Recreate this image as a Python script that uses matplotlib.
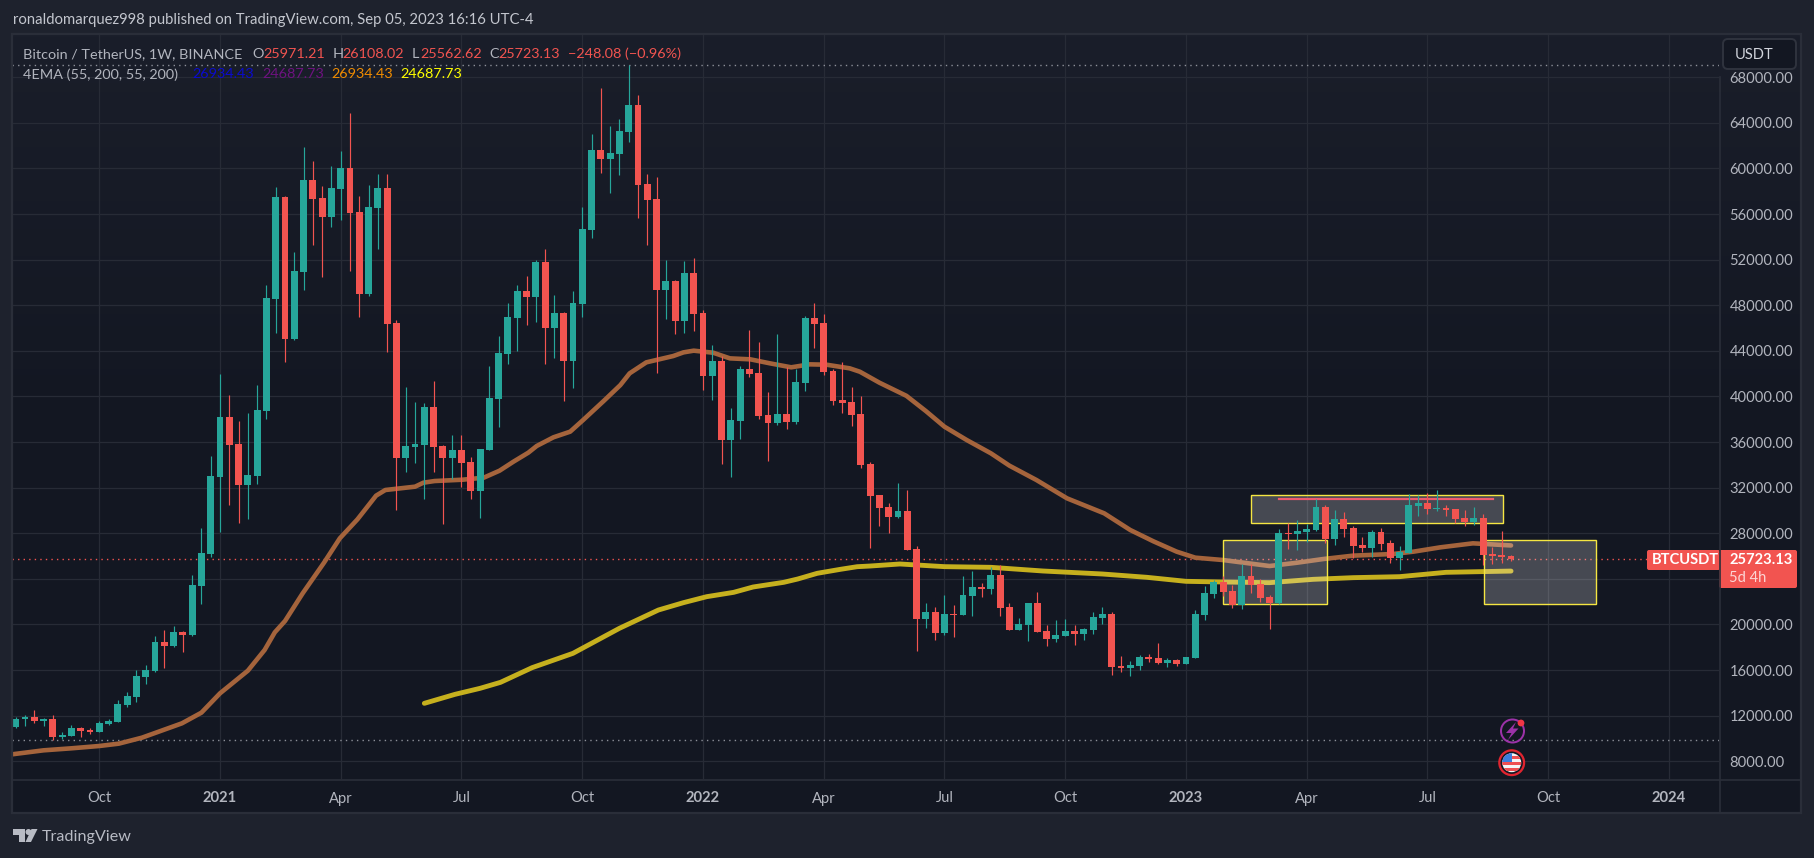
import numpy as np
import matplotlib
matplotlib.use("Agg")
import matplotlib.pyplot as plt
from matplotlib.patches import Rectangle, FancyBboxPatch, Circle, Polygon, Wedge

W, H = 1814, 858
first_week = -22   # weeks relative to the first candle of January 2021

opens = [11038,11680,11886,11565,11711,10160,10248,10892,10746,10570,
         11272,11447,12938,13640,15394,15920,18464,18113,19341,19078,
         23376,26182,32940,38203,35834,32237,33028,38729,48555,57503,
         45041,50918,58989,57415,55748,58204,60047,56187,48994,56539,
         58292,46450,34600,35565,35740,39072,35653,34600,35302,34250,
         31707,35302,39776,43723,46880,49248,48722,51792,46005,47320,
         43109,48110,54601,61618,60828,61264,63194,65562,58633,57318,
         49335,50125,46616,50826,47318,41790,43106,36176,37844,42412,
         42060,38375,37674,38463,37762,41182,46885,46446,42236,39693,
         39518,38463,34078,31358,30306,29430,29956,26623,20483,21097,
         19255,20921,20833,22499,23289,23113,24337,21528,19518,19957,
         21886,19430,18729,18992,19430,19167,19518,20570,20921,16360,
         16184,16360,17148,17061,16623,16886,16535,17060,20833,22675,
         23728,22938,21710,24254,23552,22412,21886,28026,27938,28114,
         28290,30306,27500,29254,28465,26974,26711,28114,27148,25832,
         26272,30394,30657,30131,30219,30131,29342,28991,29342,26185,
         26097,25971]
closes = [11711,11856,11535,11711,10160,10307,10921,10658,10570,11360,
          11535,13026,13728,15482,16009,18464,18113,19341,19078,23464,
          26270,33024,38203,35745,32237,33115,38817,48643,57503,45041,
          51006,58989,57322,55748,58292,60047,56100,48994,56626,58292,
          46361,34600,35653,35828,39072,35565,34600,35302,34162,31707,
          35390,39863,43811,46968,49248,48722,51792,46005,47320,43109,
          48197,54689,61618,60828,61355,63282,65562,58545,57230,49335,
          50125,46616,50826,47230,41790,43106,36176,37930,42412,41973,
          38288,37674,38463,37762,41270,46885,46358,42149,39605,39430,
          38375,33990,31270,30218,29430,29956,26535,20483,21097,19255,
          20921,20833,22587,23289,23113,24337,21441,19518,20044,21886,
          19343,18729,19080,19430,19167,19606,20658,20921,16272,16184,
          16447,17148,16973,16623,16886,16535,17148,20921,22763,23727,
          22850,21710,24254,23465,22324,21886,28026,27938,28202,28377,
          30306,27500,29254,28377,26886,26711,28114,27061,25832,26360,
          30482,30657,30131,30219,30043,29254,28991,29342,26097,26010,
          25920,25723]
highs = [11915,12032,12500,11769,12061,10541,11184,11009,10892,11535,
         11711,13348,14079,16009,16448,18990,19516,19867,19429,24341,
         28463,34778,41974,40101,37845,38520,41004,49784,58380,57590,
         52673,61884,60651,58467,60222,61533,64866,57590,58555,59520,
         59520,46713,40830,39540,39424,41355,35770,36650,36600,34690,
         35390,42670,45302,48197,49775,50565,51968,52932,48898,47408,
         49248,56619,63022,67050,63730,64343,69077,66440,59517,59254,
         51980,50213,51878,52140,47582,44518,43545,38990,42677,45838,
         44787,40386,45484,42587,42412,47060,48198,47235,42412,43020,
         40825,40044,34254,31358,30658,32411,31797,26886,21886,21535,
         22587,21710,24249,24688,23640,25040,25215,21886,20570,21886,
         22850,19957,20395,20483,19957,19694,21097,21535,21097,17236,
         16798,17325,17412,18377,17061,16973,17148,21272,23377,23903,
         24252,23465,25306,25306,23991,22587,28377,28903,29167,28816,
         31000,30480,30043,29870,28641,27675,28290,28465,27412,26886,
         31445,31360,31532,31795,30480,30131,30043,30306,29693,26800,
         28202,26108]
lows = [10950,11126,11388,11126,9868,9927,10219,10160,10424,10570,
        11214,11447,12792,13231,14781,15832,16184,18055,17587,18990,
        21790,25919,28114,30480,28933,29245,32325,38027,45567,43022,
        44953,49340,53294,50480,54867,55485,51010,47000,48847,52935,
        43910,30046,33373,34165,31000,33373,28814,32790,32060,31000,
        29340,35302,37320,42840,43985,46268,46530,42840,43366,39600,
        40740,46970,53900,59600,57850,59420,62320,55650,53300,42050,
        46790,45481,45570,45745,40570,39690,34075,32960,36270,41710,
        38017,34372,37500,37138,37592,40470,44250,41882,39260,38550,
        37417,33724,26710,28640,28027,29340,26535,17675,19690,18640,
        19080,18900,20833,20745,22412,22675,20745,19518,19518,18553,
        19343,18114,18465,18992,18202,18640,19167,20044,15571,15833,
        15483,16009,16711,16535,16272,16360,16535,17060,20395,22324,
        22500,21447,21360,22763,21974,19605,21798,26610,26530,27236,
        28202,27148,26974,27675,25832,26360,25920,26535,25393,24780,
        26272,29518,29693,29956,29518,28900,28641,28728,25190,25305,
        25393,25562]

ema55_week = [-22.4,-19,-16,-13,-10.9,-8.4,-4.1,-2,0,3,4.8,5.9,7,8.9,11.2,12.9,14.8,16.8,17.8,21,
              21.9,23.1,26.1,28.4,30.1,31.6,33.2,34.1,35.9,37.7,39.1,41.3,43.1,44.1,45.9,48.8,49.9,51,53.1,
              54.9,57.1,59.2,61.5,63.5,65.3,67.8,68.9,71,73.9,76,78,80.4,83,85,87.9,91.2,95.2,98,
              100.5,103,105,108,113,116,118.8,122,126.3,128.5,131.4,134.9,139]
ema55 = [8611,8962,9139,9342,9547,10073,11331,12266,13962,15950,17763,19312,20307,22734,25424,27559,
         29225,31300,31797,32090,32440,32585,32700,32880,33493,34285,35075,35660,36420,36915,37940,
         39600,41000,42030,42996,43550,43870,44020,43840,43345,43260,42910,42560,42820,42790,42470,42170,41210,
         40060,38720,37350,36180,35015,33930,32675,31065,29750,28290,27295,26390,25862,25655,25130,
         25424,25745,26040,26186,26390,26770,27120,26934]
ema200_week = [22,25.3,28,30.2,33.6,38,43,47.2,49.9,52.4,55.3,57.4,60.7,62.2,64.3,66.8,68.6,70,73.2,
               78,83,88.6,95,99.8,104,108,113,117.7,122,127,132,139]
ema200 = [13085,13873,14400,14926,16213,17470,19663,21270,21916,22440,22820,23290,23700,23990,24490,
          24840,25070,25130,25308,25074,25015,24693,24430,24138,23787,23728,23670,23962,24108,24196,
          24577,24687]

price_ticks = [8000,12000,16000,20000,24000,28000,32000,36000,40000,44000,48000,52000,56000,60000,64000,68000]
price_labels = ["8000.00","12000.00","16000.00","20000.00","","28000.00","32000.00","36000.00","40000.00",
                "44000.00","48000.00","52000.00","56000.00","60000.00","64000.00","68000.00"]
time_ticks = [-13,0,13,26,39,52,65,78,91,104,117,130,143,156]
time_labels = ["Oct","2021","Apr","Jul","Oct","2022","Apr","Jul","Oct","2023","Apr","Jul","Oct","2024"]

last_price = 25723.13
high_level = 69050
low_level = 9840
# drawn zones: week start, week end, price low, price high
zone_left = [108.0, 111.0, 136.1]
zone_right = [119.15, 138.1, 148.1]
zone_low = [21772, 28877, 21772]
zone_high = [27386, 31333, 27386]
trend_week = [114, 137.1]
trend_price = [30970, 30970]

UP, DOWN = "#26a69a", "#f25450"
GRID = "#272b36"
TXT = "#b2b5be"
FONT = ["Lato", "DejaVu Sans"]
plt.rcParams["font.family"] = FONT

fig = plt.figure(figsize=(W/100, H/100), dpi=100, facecolor="#1e222d")

def box(l, t, r, b):
    return [l/W, 1-b/H, (r-l)/W, (b-t)/H]

# panel backdrop
bg = fig.add_axes(box(12, 34, 1801, 813), zorder=0)
bg.imshow(np.linspace(0, 1, 256)[:, None], aspect="auto", extent=(0, 1, 0, 1),
          cmap=matplotlib.colors.LinearSegmentedColormap.from_list("p", ["#1a1e2a", "#131722", "#131722"]))
bg.axis("off")

ax = fig.add_axes(box(12, 34, 1719, 779), zorder=1)
ax.patch.set_alpha(0)
ax.set_xlim(-22.395, 161.39)
ax.set_ylim(6447, 71798)
ax.grid(True, color=GRID, lw=0.9, zorder=0)
ax.set_axisbelow(True)
for s in ax.spines.values():
    s.set_visible(False)
ax.set_yticks(price_ticks, price_labels)
ax.yaxis.tick_right()
ax.set_xticks(time_ticks, time_labels)
ax.tick_params(axis="y", length=0, pad=7.5, labelsize=10.6, labelcolor=TXT)
ax.tick_params(axis="x", length=0, pad=9, labelsize=10.6, labelcolor=TXT)
for lab in ax.get_xticklabels():
    if lab.get_text().isdigit():
        lab.set_fontweight("bold")

ax.axhline(high_level, color="#8d9099", lw=1, ls=(0, (1, 3)), zorder=1)
ax.axhline(low_level, color="#8d9099", lw=1, ls=(0, (1, 3)), zorder=1)
ax.axhline(last_price, color=DOWN, lw=1, ls=(0, (1, 3)), zorder=1)

ax.plot(ema55_week, ema55, color="#a5643c", lw=3.3, solid_capstyle="round", solid_joinstyle="round", zorder=2)
ax.plot(ema200_week, ema200, color="#c6b01e", lw=3.5, solid_capstyle="round", solid_joinstyle="round", zorder=2)

for l, r, b, t in zip(zone_left, zone_right, zone_low, zone_high):
    ax.add_patch(Rectangle((l, b), r-l, t-b, facecolor=(1, 1, 1, 0.22), edgecolor="none", zorder=3))
    ax.add_patch(Rectangle((l, b), r-l, t-b, facecolor="none", edgecolor="#f5e642", lw=1.0, zorder=3))
ax.plot(trend_week, trend_price, color="#ee5a6e", lw=1.6, zorder=3)

o, c, hi, lo = map(np.array, (opens, closes, highs, lows))
weeks = first_week + np.arange(len(o))
cols = np.where(c >= o, UP, DOWN)
ax.vlines(weeks, lo, hi, colors=cols, lw=0.85, zorder=4)
ax.bar(weeks, np.abs(c-o), bottom=np.minimum(o, c), width=0.74, color=cols, lw=0, zorder=5)

# overlay in picture pixels: frame, status text, price tag, logo and event icons
ov = fig.add_axes([0, 0, 1, 1], zorder=2)
ov.set_xlim(0, W)
ov.set_ylim(H, 0)
ov.axis("off")
ov.patch.set_alpha(0)
FR = "#2a2e39"
ov.add_patch(Rectangle((11.5, 33.5), 1789, 779.5, fill=False, ec=FR, lw=1.6))
ov.plot([12, 1801], [779.5, 779.5], color=FR, lw=1.2)
ov.plot([1719.5, 1719.5], [77, 813], color=FR, lw=1.2)

def T(x, y, s, color=TXT, size=10.6, **kw):
    ov.text(x, y, s, color=color, fontsize=size, va="center", ha="left", **kw)

T(13, 20, "ronaldomarquez998 published on TradingView.com, Sep 05, 2023 16:16 UTC-4", "#c3c6ce", 10.7)
y1, y2 = 54, 74.5
T(23, y1, "Bitcoin / TetherUS, 1W, BINANCE", size=10.35)
for x, s, col in [(252.7, "O", TXT), (263, "25971.21", DOWN), (332.5, "H", TXT), (342.4, "26108.02", DOWN),
                  (412, "L", TXT), (420, "25562.62", DOWN), (489, "C", TXT), (498.6, "25723.13", DOWN),
                  (568.2, "\u2212248.08 (\u22120.96%)", DOWN)]:
    T(x, y1, s, col, 10.35)
T(23, y2, "4EMA (55, 200, 55, 200)", size=10.35)
T(192, y2, "26934.43", "#0a0ad0", 10.35)
T(262, y2, "24687.73", "#6e1280", 10.35)
T(331.4, y2, "26934.43", "#f08c00", 10.35)
T(400.6, y2, "24687.73", "#ffff00", 10.35)

# currency button
ov.add_patch(FancyBboxPatch((1723, 39), 73, 30, boxstyle="round,pad=0,rounding_size=5",
                            fc="#131722", ec="#2f333e", lw=1.4, mutation_aspect=1))
T(1735, 55, "USDT", "#d1d4dc", 10.6)

# last price tag
ov.add_patch(FancyBboxPatch((1647, 550), 73, 20, boxstyle="round,pad=0,rounding_size=2", fc=DOWN, ec="none"))
ov.add_patch(FancyBboxPatch((1719, 550), 78, 38, boxstyle="round,pad=0,rounding_size=2", fc=DOWN, ec="none"))
T(1652, 559.5, "BTCUSDT", "white", 10.6, fontweight="bold")
T(1729, 559.5, "25723.13", "white", 10.6, fontweight="bold")
T(1729, 578, "5d 4h", "#fcd6d5", 10.6)

# TradingView mark and name
LOGO = "#b8bbc4"
ov.add_patch(Polygon([(13, 829), (25, 829), (25, 842), (19, 842), (19, 835), (13, 835)], fc=LOGO, ec="none"))
ov.add_patch(Circle((28.5, 832), 3, fc=LOGO, ec="none"))
ov.add_patch(Polygon([(31, 842), (25.5, 842), (31.5, 829), (37.5, 829)], fc=LOGO, ec="none"))
T(42, 837, "TradingView", "#b8bbc4", 11.6)

# event icons
PUR = "#9c32a8"
ov.add_patch(Wedge((1512.5, 731), 12.5, 0, 360, width=2, fc=PUR, ec="none"))
ov.add_patch(Polygon([(1516, 722), (1506, 733), (1511.5, 733), (1508, 740), (1518.5, 728.5), (1513, 728.5)], fc=PUR, ec="none"))
ov.add_patch(Circle((1521, 723), 3.4, fc="#f23645", ec="none", zorder=4))
ov.add_patch(Circle((1511.7, 762.7), 13.5, fc="#e0242f", ec="none"))
ov.add_patch(Circle((1511.7, 762.7), 11.2, fc="#131722", ec="none"))
flag = Circle((1511.7, 762.7), 9.5, fc="#f4f4f6", ec="none", zorder=3)
ov.add_patch(flag)
for yy in [754, 760, 766]:
    r = Rectangle((1501, yy+2), 22, 3, fc="#ef4f52", ec="none", zorder=3.1)
    ov.add_patch(r)
    r.set_clip_path(flag)
r = Rectangle((1501, 752), 11, 9.5, fc="#3b7ddd", ec="none", zorder=3.2)
ov.add_patch(r)
r.set_clip_path(flag)

fig.savefig("out.png", dpi=100, facecolor=fig.get_facecolor())
